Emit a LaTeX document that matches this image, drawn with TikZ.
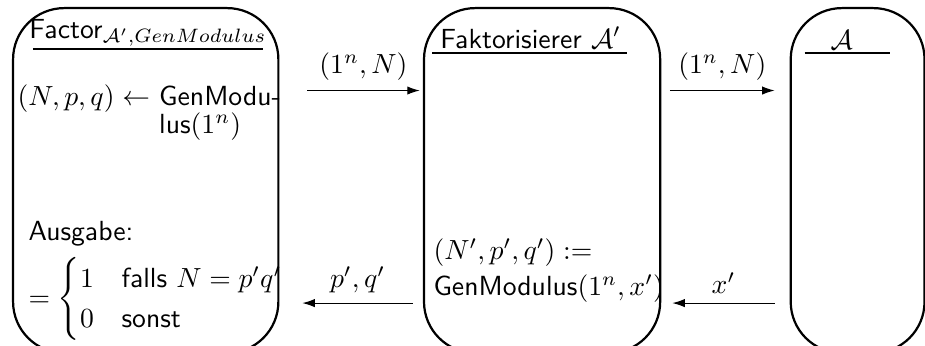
\documentclass[tikz,border=0pt]{standalone}
\usepackage{amsmath,amssymb}
\usepackage{tikz}
\usetikzlibrary{arrows.meta,positioning,calc}

\begin{document}
\begin{tikzpicture}[scale=1,>=Latex,font=\sffamily,
  party/.style={draw,thick,rounded corners=0.65cm,anchor=north west,inner sep=0pt,minimum height=4.38cm},
  txt/.style={inner sep=0pt},
  msg/.style={-{Latex[length=4.5pt,width=3pt]}}]
  \useasboundingbox (0,0) rectangle (11.75,-4.394);
  \clip (0,0) rectangle (11.75,-4.394);
  \node[party,minimum width=3.37cm] (fac) at (0.152,-0.089) {};
  \node[party,minimum width=3.0cm] (fak) at (5.372,-0.089) {};
  \node[party,minimum width=1.70cm] (adv) at (10.03,-0.089) {};

  \node[txt,anchor=base] (t1) at (1.88,-0.483) {Factor$_{\mathcal{A}',GenModulus}$};
  \draw[thick] (0.419,-0.622) -- (3.34,-0.622);
  \node[txt,anchor=base] (t2) at (6.74,-0.61) {Faktorisierer $\mathcal{A}'$};
  \draw[thick] (5.49,-0.673) -- (7.96,-0.673);
  \node[txt,anchor=base] (t3) at (10.69,-0.635) {$\mathcal{A}$};
  \draw[thick] (10.22,-0.673) -- (11.30,-0.673);

  \node[txt,anchor=west] (gen) at (0.216,-1.43) {\renewcommand\arraystretch{0.75}%
    \begin{tabular}{@{}l@{\ }l@{}}$(N,p,q)\leftarrow$ & GenModu-\\ & lus$(1^n)$\end{tabular}};
  \node[txt,anchor=base west] (aus) at (0.356,-3.05) {Ausgabe:};
  \node[txt,anchor=west] (out) at (0.356,-3.80)
    {$=\begin{cases}1 & \text{falls } N=p'q'\\ 0 & \text{sonst}\end{cases}$};
  \node[txt,anchor=west,align=left] (gm) at (5.50,-3.44)
    {$(N',p',q'):=$\\[1pt]GenModulus$(1^n,x')$};

  \coordinate (s1) at (3.90,-1.15);
  \coordinate (s2) at (8.51,-1.15);
  \coordinate (r1) at (9.84,-3.85);
  \coordinate (r2) at (5.245,-3.85);
  \draw[msg] (s1) -- ($(fak.west |- s1)+(-0.04,0)$) node[midway,above] {$(1^n,N)$};
  \draw[msg] (s2) -- ($(adv.west |- s2)+(-0.19,0)$) node[midway,above] {$(1^n,N)$};
  \draw[msg] (r1) -- ($(fak.east |- r1)+(0.14,0)$) node[midway,above] {$x'$};
  \draw[msg] (r2) -- ($(fac.east |- r2)+(0.29,0)$) node[midway,above] {$p',q'$};
\end{tikzpicture}
\end{document}
